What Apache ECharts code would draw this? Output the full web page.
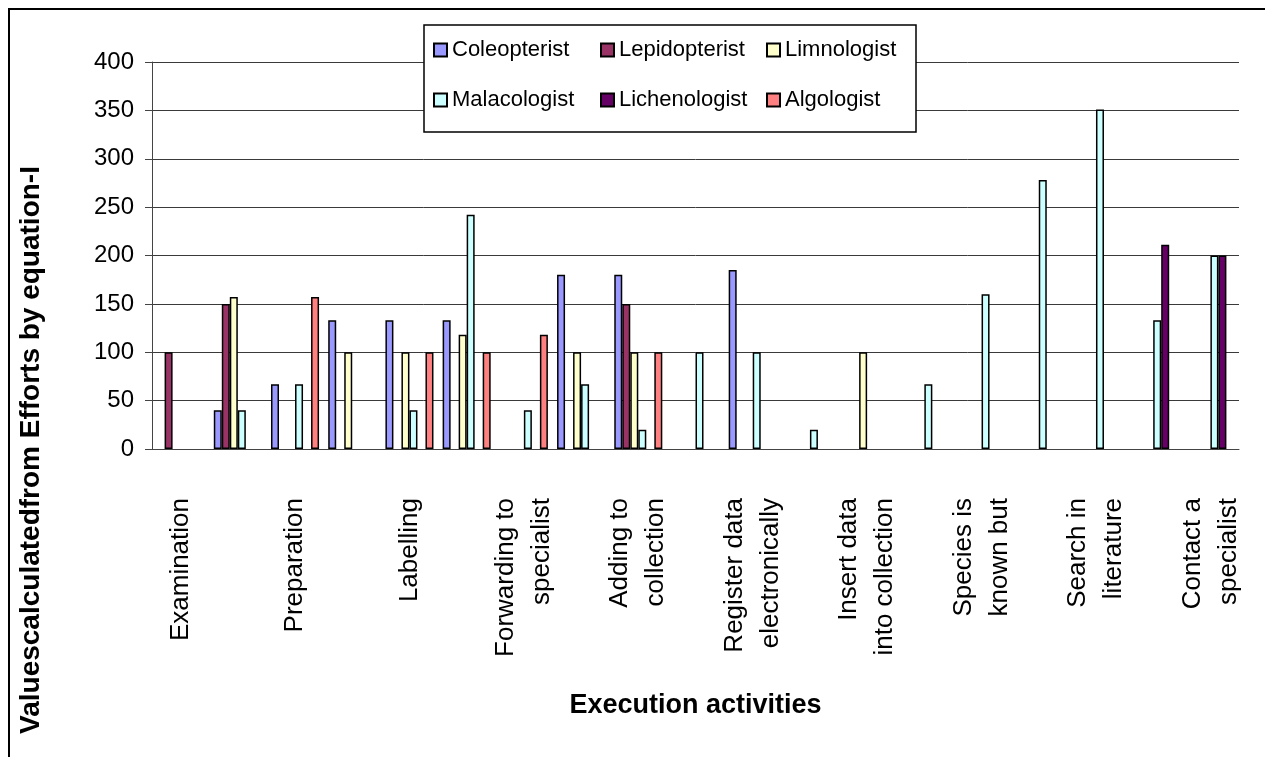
<!DOCTYPE html>
<html>
<head>
<meta charset="utf-8">
<script src="https://cdn.jsdelivr.net/npm/echarts@6/dist/echarts.min.js"></script>
<style>
    html, body { margin: 0; padding: 0; background: #fff; }
    #chart { width: 1265px; height: 757px; }
</style>
</head>
<body>
<div id="chart"></div>
<script>
    // 19 activities, Excel only printed every second label
    var categories = [
        'Examination', '', 'Preparation', '', 'Labelling', '',
        'Forwarding to\nspecialist', '', 'Adding to\ncollection', '',
        'Register data\nelectronically', '', 'Insert data\ninto collection', '',
        'Species is\nknown but', '', 'Search in\nliterature', '', 'Contact a\nspecialist'
    ];
    var coleopterist  = [null, 40, 67, 133, 133, 133, null, 180, 180, null, 185, null, null, null, null, null, null, null, null];
    var lepidopterist = [100, 150, null, null, null, null, null, null, 150, null, null, null, null, null, null, null, null, null, null];
    var limnologist   = [null, 157, null, 100, 100, 118, null, 100, 100, null, null, null, 100, null, null, null, null, null, null];
    var malacologist  = [null, 40, 67, null, 40, 242, 40, 67, 20, 100, 100, 20, null, 67, 160, 278, 351, 133, 200];
    var lichenologist = [null, null, null, null, null, null, null, null, null, null, null, null, null, null, null, null, null, 211, 200];
    var algologist    = [null, null, 157, null, 100, 100, 118, null, 100, null, null, null, null, null, null, null, null, null, null];
    var yTicks = [0, 50, 100, 150, 200, 250, 300, 350, 400];

    var font = "'Liberation Sans', Arial, sans-serif";

    function bar(name, data, color) {
        return {
            name: name,
            type: 'bar',
            data: data,
            barGap: 0,
            barCategoryGap: '16%',
            itemStyle: {
                color: color,
                borderColor: '#000',
                borderWidth: 1.5
            }
        };
    }

    function legendCol(left, names) {
        return {
            data: names,
            orient: 'vertical',
            left: left,
            top: 35,
            padding: 0,
            itemGap: 20,
            itemWidth: 13,
            itemHeight: 13,
            icon: 'rect',
            z: 11,
            textStyle: {
                fontFamily: font,
                fontSize: 22,
                lineHeight: 30,
                color: '#000'
            }
        };
    }

    var myChart = echarts.init(document.getElementById('chart'));
    var option = {
        backgroundColor: '#fff',
        animation: false,
        grid: {
            left: 152,
            right: 26,
            top: 62,
            bottom: 308
        },
        legend: [
            legendCol(433, ['Coleopterist', 'Malacologist']),
            legendCol(600, ['Lepidopterist', 'Lichenologist']),
            legendCol(766, ['Limnologist', 'Algologist'])
        ],
        xAxis: {
            type: 'category',
            data: categories,
            name: 'Execution activities',
            nameLocation: 'middle',
            nameGap: 243,
            nameTextStyle: {
                fontFamily: font,
                fontSize: 27,
                fontWeight: 'bold',
                color: '#000'
            },
            axisLine: { lineStyle: { color: '#444', width: 1 } },
            axisTick: { interval: 0, length: 9, lineStyle: { color: '#444' } },
            axisLabel: {
                interval: 1,
                rotate: 90,
                margin: 49,
                fontFamily: font,
                fontSize: 26,
                lineHeight: 36,
                color: '#000'
            }
        },
        yAxis: {
            type: 'value',
            min: yTicks[0],
            max: yTicks[yTicks.length - 1],
            interval: 50,
            axisLine: { show: true, lineStyle: { color: '#444', width: 1 } },
            axisTick: { show: true, length: 7, lineStyle: { color: '#444' } },
            splitLine: { lineStyle: { color: '#3a3a3a', width: 1 } },
            axisLabel: {
                margin: 18,
                fontFamily: font,
                fontSize: 24,
                color: '#000'
            }
        },
        graphic: [
            {
                // outer chart border, only top and left fall inside the picture
                type: 'rect',
                shape: { x: 9, y: 9, width: 1300, height: 800 },
                style: { fill: 'none', stroke: '#000', lineWidth: 2 },
                z: 1
            },
            {
                type: 'rect',
                shape: { x: 424, y: 25, width: 492, height: 107 },
                style: { fill: '#fff', stroke: '#000', lineWidth: 1.5 },
                z: 10
            },
            {
                type: 'text',
                x: 31,
                y: 450,
                rotation: Math.PI / 2,
                style: {
                    text: 'Valuescalculatedfrom Efforts by equation-I',
                    font: 'bold 28px ' + font,
                    fill: '#000',
                    textAlign: 'center',
                    textVerticalAlign: 'middle'
                },
                z: 10
            }
        ],
        series: [
            bar('Coleopterist', coleopterist, '#9999FF'),
            bar('Lepidopterist', lepidopterist, '#993366'),
            bar('Limnologist', limnologist, '#FFFFCC'),
            bar('Malacologist', malacologist, '#CCFFFF'),
            bar('Lichenologist', lichenologist, '#660066'),
            bar('Algologist', algologist, '#FF8080')
        ]
    };
    myChart.setOption(option);
</script>
</body>
</html>
